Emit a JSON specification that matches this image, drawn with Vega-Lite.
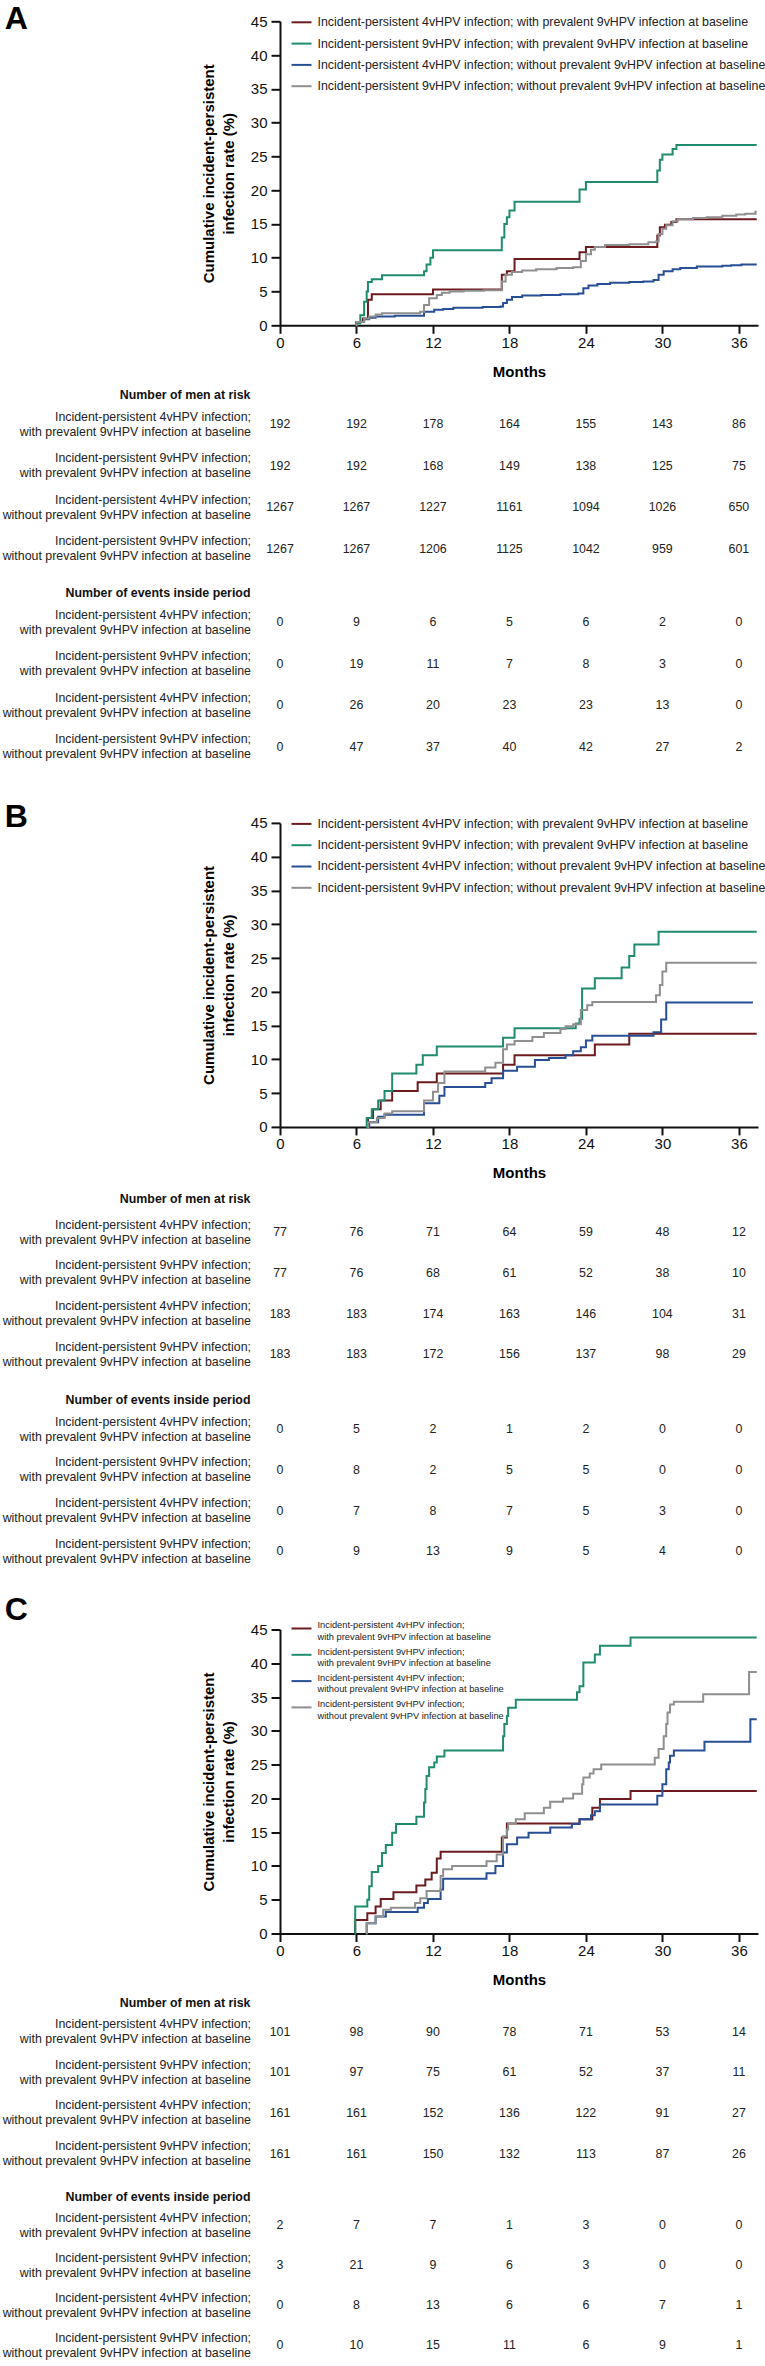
{
  "$schema": "https://vega.github.io/schema/vega-lite/v6.json",
  "padding": {"left": 1, "top": 3.3, "right": 0, "bottom": 0},
  "autosize": {"type": "pad"},
  "spacing": 33.6,
  "config": {
    "font": "Liberation Sans",
    "view": {"stroke": null},
    "title": {"color": "#000"},
    "legend": {"rowPadding": 3.3}
  },
  "datasets": {
    "series": [
      {"key": "s1", "label": "Incident-persistent 4vHPV infection; with prevalent 9vHPV infection at baseline"},
      {"key": "s2", "label": "Incident-persistent 9vHPV infection; with prevalent 9vHPV infection at baseline"},
      {"key": "s3", "label": "Incident-persistent 4vHPV infection; without prevalent 9vHPV infection at baseline"},
      {"key": "s4", "label": "Incident-persistent 9vHPV infection; without prevalent 9vHPV infection at baseline"}
    ],
    "curves": [
      {"panel":"A","key":"s1","month":5.95,"rate":0},{"panel":"A","key":"s1","month":6.0,"rate":0.5},{"panel":"A","key":"s1","month":6.5,"rate":1.0},{"panel":"A","key":"s1","month":6.9,"rate":3.8},{"panel":"A","key":"s1","month":7.2,"rate":4.6},{"panel":"A","key":"s1","month":12.0,"rate":5.3},{"panel":"A","key":"s1","month":17.4,"rate":7.5},{"panel":"A","key":"s1","month":17.8,"rate":8.0},{"panel":"A","key":"s1","month":18.4,"rate":9.8},{"panel":"A","key":"s1","month":23.5,"rate":10.8},{"panel":"A","key":"s1","month":24.0,"rate":11.6},{"panel":"A","key":"s1","month":29.6,"rate":13.3},{"panel":"A","key":"s1","month":29.8,"rate":14.5},{"panel":"A","key":"s1","month":30.2,"rate":14.9},{"panel":"A","key":"s1","month":30.7,"rate":15.3},{"panel":"A","key":"s1","month":31.1,"rate":15.7},{"panel":"A","key":"s1","month":37.4,"rate":15.7},
      {"panel":"A","key":"s2","month":5.95,"rate":0},{"panel":"A","key":"s2","month":6.0,"rate":0.3},{"panel":"A","key":"s2","month":6.3,"rate":1.5},{"panel":"A","key":"s2","month":6.6,"rate":3.5},{"panel":"A","key":"s2","month":6.8,"rate":5.0},{"panel":"A","key":"s2","month":6.9,"rate":6.4},{"panel":"A","key":"s2","month":7.2,"rate":6.8},{"panel":"A","key":"s2","month":8.0,"rate":7.4},{"panel":"A","key":"s2","month":11.3,"rate":8.0},{"panel":"A","key":"s2","month":11.5,"rate":9.0},{"panel":"A","key":"s2","month":11.8,"rate":10.0},{"panel":"A","key":"s2","month":12.0,"rate":11.1},{"panel":"A","key":"s2","month":17.4,"rate":13.0},{"panel":"A","key":"s2","month":17.6,"rate":15.0},{"panel":"A","key":"s2","month":17.8,"rate":16.0},{"panel":"A","key":"s2","month":18.0,"rate":17.0},{"panel":"A","key":"s2","month":18.4,"rate":18.3},{"panel":"A","key":"s2","month":23.5,"rate":20.1},{"panel":"A","key":"s2","month":24.0,"rate":21.2},{"panel":"A","key":"s2","month":29.6,"rate":22.9},{"panel":"A","key":"s2","month":29.8,"rate":24.5},{"panel":"A","key":"s2","month":30.0,"rate":25.3},{"panel":"A","key":"s2","month":30.8,"rate":26.1},{"panel":"A","key":"s2","month":31.1,"rate":26.7},{"panel":"A","key":"s2","month":37.4,"rate":26.7},
      {"panel":"A","key":"s3","month":5.95,"rate":0},{"panel":"A","key":"s3","month":6.0,"rate":0.5},{"panel":"A","key":"s3","month":6.6,"rate":0.9},{"panel":"A","key":"s3","month":7.0,"rate":1.1},{"panel":"A","key":"s3","month":7.5,"rate":1.3},{"panel":"A","key":"s3","month":9.0,"rate":1.4},{"panel":"A","key":"s3","month":11.3,"rate":2.0},{"panel":"A","key":"s3","month":12.1,"rate":2.3},{"panel":"A","key":"s3","month":12.8,"rate":2.4},{"panel":"A","key":"s3","month":13.6,"rate":2.6},{"panel":"A","key":"s3","month":15.9,"rate":2.7},{"panel":"A","key":"s3","month":17.3,"rate":2.8},{"panel":"A","key":"s3","month":17.5,"rate":3.3},{"panel":"A","key":"s3","month":17.8,"rate":3.8},{"panel":"A","key":"s3","month":18.2,"rate":4.2},{"panel":"A","key":"s3","month":19.0,"rate":4.4},{"panel":"A","key":"s3","month":20.5,"rate":4.5},{"panel":"A","key":"s3","month":22.0,"rate":4.6},{"panel":"A","key":"s3","month":23.4,"rate":4.7},{"panel":"A","key":"s3","month":23.8,"rate":5.5},{"panel":"A","key":"s3","month":24.2,"rate":5.9},{"panel":"A","key":"s3","month":24.9,"rate":6.1},{"panel":"A","key":"s3","month":25.9,"rate":6.3},{"panel":"A","key":"s3","month":27.4,"rate":6.4},{"panel":"A","key":"s3","month":28.5,"rate":6.5},{"panel":"A","key":"s3","month":29.3,"rate":6.7},{"panel":"A","key":"s3","month":29.7,"rate":7.5},{"panel":"A","key":"s3","month":30.1,"rate":8.0},{"panel":"A","key":"s3","month":30.8,"rate":8.3},{"panel":"A","key":"s3","month":31.4,"rate":8.5},{"panel":"A","key":"s3","month":32.7,"rate":8.7},{"panel":"A","key":"s3","month":34.7,"rate":8.8},{"panel":"A","key":"s3","month":35.4,"rate":8.9},{"panel":"A","key":"s3","month":36.2,"rate":9.0},{"panel":"A","key":"s3","month":37.4,"rate":9.0},
      {"panel":"A","key":"s4","month":5.95,"rate":0},{"panel":"A","key":"s4","month":6.0,"rate":0.5},{"panel":"A","key":"s4","month":6.6,"rate":1.0},{"panel":"A","key":"s4","month":7.0,"rate":1.3},{"panel":"A","key":"s4","month":7.5,"rate":1.6},{"panel":"A","key":"s4","month":8.0,"rate":1.8},{"panel":"A","key":"s4","month":11.0,"rate":2.0},{"panel":"A","key":"s4","month":11.3,"rate":3.0},{"panel":"A","key":"s4","month":11.7,"rate":4.0},{"panel":"A","key":"s4","month":12.3,"rate":4.5},{"panel":"A","key":"s4","month":12.7,"rate":4.8},{"panel":"A","key":"s4","month":13.3,"rate":5.0},{"panel":"A","key":"s4","month":14.4,"rate":5.1},{"panel":"A","key":"s4","month":16.0,"rate":5.2},{"panel":"A","key":"s4","month":17.4,"rate":6.5},{"panel":"A","key":"s4","month":17.7,"rate":7.5},{"panel":"A","key":"s4","month":18.2,"rate":7.9},{"panel":"A","key":"s4","month":19.0,"rate":8.1},{"panel":"A","key":"s4","month":20.1,"rate":8.3},{"panel":"A","key":"s4","month":21.7,"rate":8.5},{"panel":"A","key":"s4","month":23.0,"rate":8.6},{"panel":"A","key":"s4","month":23.6,"rate":9.5},{"panel":"A","key":"s4","month":24.0,"rate":10.5},{"panel":"A","key":"s4","month":24.4,"rate":11.2},{"panel":"A","key":"s4","month":24.7,"rate":11.6},{"panel":"A","key":"s4","month":25.5,"rate":11.9},{"panel":"A","key":"s4","month":27.4,"rate":12.0},{"panel":"A","key":"s4","month":28.9,"rate":12.3},{"panel":"A","key":"s4","month":29.5,"rate":12.4},{"panel":"A","key":"s4","month":29.7,"rate":13.5},{"panel":"A","key":"s4","month":30.0,"rate":14.3},{"panel":"A","key":"s4","month":30.3,"rate":14.8},{"panel":"A","key":"s4","month":30.8,"rate":15.4},{"panel":"A","key":"s4","month":31.2,"rate":15.7},{"panel":"A","key":"s4","month":32.4,"rate":15.9},{"panel":"A","key":"s4","month":33.5,"rate":16.0},{"panel":"A","key":"s4","month":34.7,"rate":16.2},{"panel":"A","key":"s4","month":35.8,"rate":16.4},{"panel":"A","key":"s4","month":36.5,"rate":16.5},{"panel":"A","key":"s4","month":37.3,"rate":16.8},{"panel":"A","key":"s4","month":37.4,"rate":16.8},
      {"panel":"B","key":"s1","month":6.85,"rate":0},{"panel":"B","key":"s1","month":6.9,"rate":1.3},{"panel":"B","key":"s1","month":7.3,"rate":2.6},{"panel":"B","key":"s1","month":7.9,"rate":3.9},{"panel":"B","key":"s1","month":8.8,"rate":5.3},{"panel":"B","key":"s1","month":10.8,"rate":6.6},{"panel":"B","key":"s1","month":12.3,"rate":7.9},{"panel":"B","key":"s1","month":17.5,"rate":9.2},{"panel":"B","key":"s1","month":18.4,"rate":10.6},{"panel":"B","key":"s1","month":24.7,"rate":12.2},{"panel":"B","key":"s1","month":27.4,"rate":13.8},{"panel":"B","key":"s1","month":37.4,"rate":13.8},
      {"panel":"B","key":"s2","month":6.75,"rate":0},{"panel":"B","key":"s2","month":6.8,"rate":1.3},{"panel":"B","key":"s2","month":7.2,"rate":2.6},{"panel":"B","key":"s2","month":7.7,"rate":3.9},{"panel":"B","key":"s2","month":8.2,"rate":5.3},{"panel":"B","key":"s2","month":8.8,"rate":7.9},{"panel":"B","key":"s2","month":10.7,"rate":9.2},{"panel":"B","key":"s2","month":11.2,"rate":10.6},{"panel":"B","key":"s2","month":12.3,"rate":11.9},{"panel":"B","key":"s2","month":17.5,"rate":13.2},{"panel":"B","key":"s2","month":18.4,"rate":14.6},{"panel":"B","key":"s2","month":23.2,"rate":15.3},{"panel":"B","key":"s2","month":23.5,"rate":16.0},{"panel":"B","key":"s2","month":23.7,"rate":20.5},{"panel":"B","key":"s2","month":24.7,"rate":22.0},{"panel":"B","key":"s2","month":26.8,"rate":23.6},{"panel":"B","key":"s2","month":27.4,"rate":25.3},{"panel":"B","key":"s2","month":27.8,"rate":27.0},{"panel":"B","key":"s2","month":29.7,"rate":28.9},{"panel":"B","key":"s2","month":37.4,"rate":28.9},
      {"panel":"B","key":"s3","month":6.95,"rate":0},{"panel":"B","key":"s3","month":7.0,"rate":0.7},{"panel":"B","key":"s3","month":7.7,"rate":1.5},{"panel":"B","key":"s3","month":8.2,"rate":1.8},{"panel":"B","key":"s3","month":11.3,"rate":3.5},{"panel":"B","key":"s3","month":12.5,"rate":4.6},{"panel":"B","key":"s3","month":12.9,"rate":5.9},{"panel":"B","key":"s3","month":16.1,"rate":6.5},{"panel":"B","key":"s3","month":16.6,"rate":7.2},{"panel":"B","key":"s3","month":17.5,"rate":8.3},{"panel":"B","key":"s3","month":18.6,"rate":8.9},{"panel":"B","key":"s3","month":20.0,"rate":9.9},{"panel":"B","key":"s3","month":21.1,"rate":10.2},{"panel":"B","key":"s3","month":22.4,"rate":10.6},{"panel":"B","key":"s3","month":23.0,"rate":11.2},{"panel":"B","key":"s3","month":23.6,"rate":11.8},{"panel":"B","key":"s3","month":24.0,"rate":12.8},{"panel":"B","key":"s3","month":24.5,"rate":13.5},{"panel":"B","key":"s3","month":29.3,"rate":14.0},{"panel":"B","key":"s3","month":29.9,"rate":15.9},{"panel":"B","key":"s3","month":30.3,"rate":18.4},{"panel":"B","key":"s3","month":37.1,"rate":18.4},
      {"panel":"B","key":"s4","month":6.85,"rate":0},{"panel":"B","key":"s4","month":6.9,"rate":0.7},{"panel":"B","key":"s4","month":7.6,"rate":1.3},{"panel":"B","key":"s4","month":8.2,"rate":2.0},{"panel":"B","key":"s4","month":8.8,"rate":2.3},{"panel":"B","key":"s4","month":11.3,"rate":3.9},{"panel":"B","key":"s4","month":12.0,"rate":5.2},{"panel":"B","key":"s4","month":12.4,"rate":6.5},{"panel":"B","key":"s4","month":12.9,"rate":8.2},{"panel":"B","key":"s4","month":16.1,"rate":8.8},{"panel":"B","key":"s4","month":16.9,"rate":9.5},{"panel":"B","key":"s4","month":17.5,"rate":11.5},{"panel":"B","key":"s4","month":17.8,"rate":12.2},{"panel":"B","key":"s4","month":18.4,"rate":12.7},{"panel":"B","key":"s4","month":19.8,"rate":13.3},{"panel":"B","key":"s4","month":20.7,"rate":13.9},{"panel":"B","key":"s4","month":22.0,"rate":14.5},{"panel":"B","key":"s4","month":22.4,"rate":14.9},{"panel":"B","key":"s4","month":23.0,"rate":15.2},{"panel":"B","key":"s4","month":23.6,"rate":17.3},{"panel":"B","key":"s4","month":24.1,"rate":18.0},{"panel":"B","key":"s4","month":24.5,"rate":18.5},{"panel":"B","key":"s4","month":29.5,"rate":19.5},{"panel":"B","key":"s4","month":29.8,"rate":21.0},{"panel":"B","key":"s4","month":30.0,"rate":23.0},{"panel":"B","key":"s4","month":30.3,"rate":24.3},{"panel":"B","key":"s4","month":37.4,"rate":24.3},
      {"panel":"C","key":"s1","month":5.85,"rate":0},{"panel":"C","key":"s1","month":5.9,"rate":2.0},{"panel":"C","key":"s1","month":6.85,"rate":3.0},{"panel":"C","key":"s1","month":7.5,"rate":4.0},{"panel":"C","key":"s1","month":7.9,"rate":5.1},{"panel":"C","key":"s1","month":8.9,"rate":6.1},{"panel":"C","key":"s1","month":10.7,"rate":7.1},{"panel":"C","key":"s1","month":11.4,"rate":8.0},{"panel":"C","key":"s1","month":11.9,"rate":9.0},{"panel":"C","key":"s1","month":12.3,"rate":11.1},{"panel":"C","key":"s1","month":12.6,"rate":12.1},{"panel":"C","key":"s1","month":17.4,"rate":14.2},{"panel":"C","key":"s1","month":17.8,"rate":16.3},{"panel":"C","key":"s1","month":23.5,"rate":16.9},{"panel":"C","key":"s1","month":24.5,"rate":18.6},{"panel":"C","key":"s1","month":25.1,"rate":19.9},{"panel":"C","key":"s1","month":27.5,"rate":21.1},{"panel":"C","key":"s1","month":37.4,"rate":21.1},
      {"panel":"C","key":"s2","month":5.85,"rate":0},{"panel":"C","key":"s2","month":5.9,"rate":4.0},{"panel":"C","key":"s2","month":6.85,"rate":5.0},{"panel":"C","key":"s2","month":7.0,"rate":7.0},{"panel":"C","key":"s2","month":7.2,"rate":9.1},{"panel":"C","key":"s2","month":7.7,"rate":10.0},{"panel":"C","key":"s2","month":8.0,"rate":11.9},{"panel":"C","key":"s2","month":8.3,"rate":13.1},{"panel":"C","key":"s2","month":8.8,"rate":14.9},{"panel":"C","key":"s2","month":9.1,"rate":16.2},{"panel":"C","key":"s2","month":10.7,"rate":17.3},{"panel":"C","key":"s2","month":11.3,"rate":19.4},{"panel":"C","key":"s2","month":11.4,"rate":21.4},{"panel":"C","key":"s2","month":11.5,"rate":23.3},{"panel":"C","key":"s2","month":11.7,"rate":24.6},{"panel":"C","key":"s2","month":12.1,"rate":25.3},{"panel":"C","key":"s2","month":12.3,"rate":26.2},{"panel":"C","key":"s2","month":12.9,"rate":27.1},{"panel":"C","key":"s2","month":17.5,"rate":29.2},{"panel":"C","key":"s2","month":17.6,"rate":31.0},{"panel":"C","key":"s2","month":17.8,"rate":32.2},{"panel":"C","key":"s2","month":17.9,"rate":33.4},{"panel":"C","key":"s2","month":18.5,"rate":34.6},{"panel":"C","key":"s2","month":23.3,"rate":35.7},{"panel":"C","key":"s2","month":23.5,"rate":36.6},{"panel":"C","key":"s2","month":23.8,"rate":40.1},{"panel":"C","key":"s2","month":24.7,"rate":41.3},{"panel":"C","key":"s2","month":25.1,"rate":42.6},{"panel":"C","key":"s2","month":27.5,"rate":43.8},{"panel":"C","key":"s2","month":37.4,"rate":43.8},
      {"panel":"C","key":"s3","month":6.75,"rate":0},{"panel":"C","key":"s3","month":6.8,"rate":1.5},{"panel":"C","key":"s3","month":7.5,"rate":2.5},{"panel":"C","key":"s3","month":8.3,"rate":3.2},{"panel":"C","key":"s3","month":10.8,"rate":3.8},{"panel":"C","key":"s3","month":11.3,"rate":4.5},{"panel":"C","key":"s3","month":11.6,"rate":5.1},{"panel":"C","key":"s3","month":12.6,"rate":6.5},{"panel":"C","key":"s3","month":12.8,"rate":8.1},{"panel":"C","key":"s3","month":16.2,"rate":8.9},{"panel":"C","key":"s3","month":16.9,"rate":10.0},{"panel":"C","key":"s3","month":17.5,"rate":12.0},{"panel":"C","key":"s3","month":17.8,"rate":13.2},{"panel":"C","key":"s3","month":18.6,"rate":14.2},{"panel":"C","key":"s3","month":19.5,"rate":14.9},{"panel":"C","key":"s3","month":21.2,"rate":15.7},{"panel":"C","key":"s3","month":22.9,"rate":16.2},{"panel":"C","key":"s3","month":23.5,"rate":16.9},{"panel":"C","key":"s3","month":24.4,"rate":17.5},{"panel":"C","key":"s3","month":24.7,"rate":18.1},{"panel":"C","key":"s3","month":25.1,"rate":19.1},{"panel":"C","key":"s3","month":29.6,"rate":20.4},{"panel":"C","key":"s3","month":30.0,"rate":22.1},{"panel":"C","key":"s3","month":30.3,"rate":24.3},{"panel":"C","key":"s3","month":30.5,"rate":25.3},{"panel":"C","key":"s3","month":30.6,"rate":26.3},{"panel":"C","key":"s3","month":30.9,"rate":27.1},{"panel":"C","key":"s3","month":33.3,"rate":28.4},{"panel":"C","key":"s3","month":36.9,"rate":31.7},{"panel":"C","key":"s3","month":37.4,"rate":31.7},
      {"panel":"C","key":"s4","month":6.75,"rate":0},{"panel":"C","key":"s4","month":6.8,"rate":1.5},{"panel":"C","key":"s4","month":7.5,"rate":2.5},{"panel":"C","key":"s4","month":8.1,"rate":3.5},{"panel":"C","key":"s4","month":8.7,"rate":3.8},{"panel":"C","key":"s4","month":10.6,"rate":4.5},{"panel":"C","key":"s4","month":11.0,"rate":5.2},{"panel":"C","key":"s4","month":11.5,"rate":6.3},{"panel":"C","key":"s4","month":12.6,"rate":8.5},{"panel":"C","key":"s4","month":12.8,"rate":9.5},{"panel":"C","key":"s4","month":13.5,"rate":10.0},{"panel":"C","key":"s4","month":16.2,"rate":10.7},{"panel":"C","key":"s4","month":17.0,"rate":11.7},{"panel":"C","key":"s4","month":17.5,"rate":14.4},{"panel":"C","key":"s4","month":17.8,"rate":15.4},{"panel":"C","key":"s4","month":17.9,"rate":16.3},{"panel":"C","key":"s4","month":18.5,"rate":16.9},{"panel":"C","key":"s4","month":19.2,"rate":17.8},{"panel":"C","key":"s4","month":20.7,"rate":18.6},{"panel":"C","key":"s4","month":21.2,"rate":19.5},{"panel":"C","key":"s4","month":22.2,"rate":20.0},{"panel":"C","key":"s4","month":23.0,"rate":20.7},{"panel":"C","key":"s4","month":23.7,"rate":22.1},{"panel":"C","key":"s4","month":23.8,"rate":23.1},{"panel":"C","key":"s4","month":24.3,"rate":23.7},{"panel":"C","key":"s4","month":24.6,"rate":24.3},{"panel":"C","key":"s4","month":25.2,"rate":25.0},{"panel":"C","key":"s4","month":29.4,"rate":26.0},{"panel":"C","key":"s4","month":29.7,"rate":27.3},{"panel":"C","key":"s4","month":30.1,"rate":29.2},{"panel":"C","key":"s4","month":30.3,"rate":31.0},{"panel":"C","key":"s4","month":30.4,"rate":32.7},{"panel":"C","key":"s4","month":30.6,"rate":33.9},{"panel":"C","key":"s4","month":30.9,"rate":34.3},{"panel":"C","key":"s4","month":33.2,"rate":35.4},{"panel":"C","key":"s4","month":36.8,"rate":38.7},{"panel":"C","key":"s4","month":37.4,"rate":38.7}
    ],
    "counts": [
      {"panel":"A","table":"risk","key":"s1","month":0,"n":192},{"panel":"A","table":"risk","key":"s1","month":6,"n":192},{"panel":"A","table":"risk","key":"s1","month":12,"n":178},{"panel":"A","table":"risk","key":"s1","month":18,"n":164},{"panel":"A","table":"risk","key":"s1","month":24,"n":155},{"panel":"A","table":"risk","key":"s1","month":30,"n":143},{"panel":"A","table":"risk","key":"s1","month":36,"n":86},
      {"panel":"A","table":"risk","key":"s2","month":0,"n":192},{"panel":"A","table":"risk","key":"s2","month":6,"n":192},{"panel":"A","table":"risk","key":"s2","month":12,"n":168},{"panel":"A","table":"risk","key":"s2","month":18,"n":149},{"panel":"A","table":"risk","key":"s2","month":24,"n":138},{"panel":"A","table":"risk","key":"s2","month":30,"n":125},{"panel":"A","table":"risk","key":"s2","month":36,"n":75},
      {"panel":"A","table":"risk","key":"s3","month":0,"n":1267},{"panel":"A","table":"risk","key":"s3","month":6,"n":1267},{"panel":"A","table":"risk","key":"s3","month":12,"n":1227},{"panel":"A","table":"risk","key":"s3","month":18,"n":1161},{"panel":"A","table":"risk","key":"s3","month":24,"n":1094},{"panel":"A","table":"risk","key":"s3","month":30,"n":1026},{"panel":"A","table":"risk","key":"s3","month":36,"n":650},
      {"panel":"A","table":"risk","key":"s4","month":0,"n":1267},{"panel":"A","table":"risk","key":"s4","month":6,"n":1267},{"panel":"A","table":"risk","key":"s4","month":12,"n":1206},{"panel":"A","table":"risk","key":"s4","month":18,"n":1125},{"panel":"A","table":"risk","key":"s4","month":24,"n":1042},{"panel":"A","table":"risk","key":"s4","month":30,"n":959},{"panel":"A","table":"risk","key":"s4","month":36,"n":601},
      {"panel":"A","table":"events","key":"s1","month":0,"n":0},{"panel":"A","table":"events","key":"s1","month":6,"n":9},{"panel":"A","table":"events","key":"s1","month":12,"n":6},{"panel":"A","table":"events","key":"s1","month":18,"n":5},{"panel":"A","table":"events","key":"s1","month":24,"n":6},{"panel":"A","table":"events","key":"s1","month":30,"n":2},{"panel":"A","table":"events","key":"s1","month":36,"n":0},
      {"panel":"A","table":"events","key":"s2","month":0,"n":0},{"panel":"A","table":"events","key":"s2","month":6,"n":19},{"panel":"A","table":"events","key":"s2","month":12,"n":11},{"panel":"A","table":"events","key":"s2","month":18,"n":7},{"panel":"A","table":"events","key":"s2","month":24,"n":8},{"panel":"A","table":"events","key":"s2","month":30,"n":3},{"panel":"A","table":"events","key":"s2","month":36,"n":0},
      {"panel":"A","table":"events","key":"s3","month":0,"n":0},{"panel":"A","table":"events","key":"s3","month":6,"n":26},{"panel":"A","table":"events","key":"s3","month":12,"n":20},{"panel":"A","table":"events","key":"s3","month":18,"n":23},{"panel":"A","table":"events","key":"s3","month":24,"n":23},{"panel":"A","table":"events","key":"s3","month":30,"n":13},{"panel":"A","table":"events","key":"s3","month":36,"n":0},
      {"panel":"A","table":"events","key":"s4","month":0,"n":0},{"panel":"A","table":"events","key":"s4","month":6,"n":47},{"panel":"A","table":"events","key":"s4","month":12,"n":37},{"panel":"A","table":"events","key":"s4","month":18,"n":40},{"panel":"A","table":"events","key":"s4","month":24,"n":42},{"panel":"A","table":"events","key":"s4","month":30,"n":27},{"panel":"A","table":"events","key":"s4","month":36,"n":2},
      {"panel":"B","table":"risk","key":"s1","month":0,"n":77},{"panel":"B","table":"risk","key":"s1","month":6,"n":76},{"panel":"B","table":"risk","key":"s1","month":12,"n":71},{"panel":"B","table":"risk","key":"s1","month":18,"n":64},{"panel":"B","table":"risk","key":"s1","month":24,"n":59},{"panel":"B","table":"risk","key":"s1","month":30,"n":48},{"panel":"B","table":"risk","key":"s1","month":36,"n":12},
      {"panel":"B","table":"risk","key":"s2","month":0,"n":77},{"panel":"B","table":"risk","key":"s2","month":6,"n":76},{"panel":"B","table":"risk","key":"s2","month":12,"n":68},{"panel":"B","table":"risk","key":"s2","month":18,"n":61},{"panel":"B","table":"risk","key":"s2","month":24,"n":52},{"panel":"B","table":"risk","key":"s2","month":30,"n":38},{"panel":"B","table":"risk","key":"s2","month":36,"n":10},
      {"panel":"B","table":"risk","key":"s3","month":0,"n":183},{"panel":"B","table":"risk","key":"s3","month":6,"n":183},{"panel":"B","table":"risk","key":"s3","month":12,"n":174},{"panel":"B","table":"risk","key":"s3","month":18,"n":163},{"panel":"B","table":"risk","key":"s3","month":24,"n":146},{"panel":"B","table":"risk","key":"s3","month":30,"n":104},{"panel":"B","table":"risk","key":"s3","month":36,"n":31},
      {"panel":"B","table":"risk","key":"s4","month":0,"n":183},{"panel":"B","table":"risk","key":"s4","month":6,"n":183},{"panel":"B","table":"risk","key":"s4","month":12,"n":172},{"panel":"B","table":"risk","key":"s4","month":18,"n":156},{"panel":"B","table":"risk","key":"s4","month":24,"n":137},{"panel":"B","table":"risk","key":"s4","month":30,"n":98},{"panel":"B","table":"risk","key":"s4","month":36,"n":29},
      {"panel":"B","table":"events","key":"s1","month":0,"n":0},{"panel":"B","table":"events","key":"s1","month":6,"n":5},{"panel":"B","table":"events","key":"s1","month":12,"n":2},{"panel":"B","table":"events","key":"s1","month":18,"n":1},{"panel":"B","table":"events","key":"s1","month":24,"n":2},{"panel":"B","table":"events","key":"s1","month":30,"n":0},{"panel":"B","table":"events","key":"s1","month":36,"n":0},
      {"panel":"B","table":"events","key":"s2","month":0,"n":0},{"panel":"B","table":"events","key":"s2","month":6,"n":8},{"panel":"B","table":"events","key":"s2","month":12,"n":2},{"panel":"B","table":"events","key":"s2","month":18,"n":5},{"panel":"B","table":"events","key":"s2","month":24,"n":5},{"panel":"B","table":"events","key":"s2","month":30,"n":0},{"panel":"B","table":"events","key":"s2","month":36,"n":0},
      {"panel":"B","table":"events","key":"s3","month":0,"n":0},{"panel":"B","table":"events","key":"s3","month":6,"n":7},{"panel":"B","table":"events","key":"s3","month":12,"n":8},{"panel":"B","table":"events","key":"s3","month":18,"n":7},{"panel":"B","table":"events","key":"s3","month":24,"n":5},{"panel":"B","table":"events","key":"s3","month":30,"n":3},{"panel":"B","table":"events","key":"s3","month":36,"n":0},
      {"panel":"B","table":"events","key":"s4","month":0,"n":0},{"panel":"B","table":"events","key":"s4","month":6,"n":9},{"panel":"B","table":"events","key":"s4","month":12,"n":13},{"panel":"B","table":"events","key":"s4","month":18,"n":9},{"panel":"B","table":"events","key":"s4","month":24,"n":5},{"panel":"B","table":"events","key":"s4","month":30,"n":4},{"panel":"B","table":"events","key":"s4","month":36,"n":0},
      {"panel":"C","table":"risk","key":"s1","month":0,"n":101},{"panel":"C","table":"risk","key":"s1","month":6,"n":98},{"panel":"C","table":"risk","key":"s1","month":12,"n":90},{"panel":"C","table":"risk","key":"s1","month":18,"n":78},{"panel":"C","table":"risk","key":"s1","month":24,"n":71},{"panel":"C","table":"risk","key":"s1","month":30,"n":53},{"panel":"C","table":"risk","key":"s1","month":36,"n":14},
      {"panel":"C","table":"risk","key":"s2","month":0,"n":101},{"panel":"C","table":"risk","key":"s2","month":6,"n":97},{"panel":"C","table":"risk","key":"s2","month":12,"n":75},{"panel":"C","table":"risk","key":"s2","month":18,"n":61},{"panel":"C","table":"risk","key":"s2","month":24,"n":52},{"panel":"C","table":"risk","key":"s2","month":30,"n":37},{"panel":"C","table":"risk","key":"s2","month":36,"n":11},
      {"panel":"C","table":"risk","key":"s3","month":0,"n":161},{"panel":"C","table":"risk","key":"s3","month":6,"n":161},{"panel":"C","table":"risk","key":"s3","month":12,"n":152},{"panel":"C","table":"risk","key":"s3","month":18,"n":136},{"panel":"C","table":"risk","key":"s3","month":24,"n":122},{"panel":"C","table":"risk","key":"s3","month":30,"n":91},{"panel":"C","table":"risk","key":"s3","month":36,"n":27},
      {"panel":"C","table":"risk","key":"s4","month":0,"n":161},{"panel":"C","table":"risk","key":"s4","month":6,"n":161},{"panel":"C","table":"risk","key":"s4","month":12,"n":150},{"panel":"C","table":"risk","key":"s4","month":18,"n":132},{"panel":"C","table":"risk","key":"s4","month":24,"n":113},{"panel":"C","table":"risk","key":"s4","month":30,"n":87},{"panel":"C","table":"risk","key":"s4","month":36,"n":26},
      {"panel":"C","table":"events","key":"s1","month":0,"n":2},{"panel":"C","table":"events","key":"s1","month":6,"n":7},{"panel":"C","table":"events","key":"s1","month":12,"n":7},{"panel":"C","table":"events","key":"s1","month":18,"n":1},{"panel":"C","table":"events","key":"s1","month":24,"n":3},{"panel":"C","table":"events","key":"s1","month":30,"n":0},{"panel":"C","table":"events","key":"s1","month":36,"n":0},
      {"panel":"C","table":"events","key":"s2","month":0,"n":3},{"panel":"C","table":"events","key":"s2","month":6,"n":21},{"panel":"C","table":"events","key":"s2","month":12,"n":9},{"panel":"C","table":"events","key":"s2","month":18,"n":6},{"panel":"C","table":"events","key":"s2","month":24,"n":3},{"panel":"C","table":"events","key":"s2","month":30,"n":0},{"panel":"C","table":"events","key":"s2","month":36,"n":0},
      {"panel":"C","table":"events","key":"s3","month":0,"n":0},{"panel":"C","table":"events","key":"s3","month":6,"n":8},{"panel":"C","table":"events","key":"s3","month":12,"n":13},{"panel":"C","table":"events","key":"s3","month":18,"n":6},{"panel":"C","table":"events","key":"s3","month":24,"n":6},{"panel":"C","table":"events","key":"s3","month":30,"n":7},{"panel":"C","table":"events","key":"s3","month":36,"n":1},
      {"panel":"C","table":"events","key":"s4","month":0,"n":0},{"panel":"C","table":"events","key":"s4","month":6,"n":10},{"panel":"C","table":"events","key":"s4","month":12,"n":15},{"panel":"C","table":"events","key":"s4","month":18,"n":11},{"panel":"C","table":"events","key":"s4","month":24,"n":6},{"panel":"C","table":"events","key":"s4","month":30,"n":9},{"panel":"C","table":"events","key":"s4","month":36,"n":1}
    ]
  },
  "resolve": {"scale": {"color": "independent"}, "legend": {"color": "independent"}},
  "vconcat": [
    {
      "title": {"text": "A", "anchor": "start", "fontSize": 32, "fontWeight": "bold", "baseline": "alphabetic", "offset": -50, "dx": 3},
      "spacing": 17,
      "resolve": {"scale": {"color": "independent"}, "legend": {"color": "independent"}},
      "vconcat": [
        {
          "spacing": 9,
          "vconcat": [
            {
              "width": 478, "height": 304,
              "data": {"name": "curves"},
              "transform": [{"filter": "datum.panel === 'A'"}, {"lookup": "key", "from": {"data": {"name": "series"}, "key": "key", "fields": ["label"]}}],
              "mark": {"type": "line", "interpolate": "step-after", "strokeWidth": 2},
              "encoding": {
                "x": {"field": "month", "type": "quantitative", "scale": {"domain": [0, 37.5], "nice": false}, "axis": {"values": [0, 6, 12, 18, 24, 30, 36], "title": "Months", "grid": false, "domainWidth": 2, "domainColor": "#111", "tickWidth": 2, "tickColor": "#111", "tickSize": 8, "labelFontSize": 15, "labelPadding": 2, "labelColor": "#111", "labelFlush": false, "titleFontSize": 15, "titleFontWeight": "bold", "titlePadding": 14}},
                "y": {"field": "rate", "type": "quantitative", "scale": {"domain": [0, 45], "nice": false}, "axis": {"values": [0, 5, 10, 15, 20, 25, 30, 35, 40, 45], "title": ["Cumulative incident-persistent", "infection rate (%)"], "grid": false, "domainWidth": 2, "domainColor": "#111", "tickWidth": 2, "tickColor": "#111", "tickSize": 9, "labelFontSize": 15, "labelPadding": 4, "labelColor": "#111", "labelFlush": false, "titleFontSize": 15, "titleFontWeight": "bold", "titleLineHeight": 20, "titlePadding": 14}},
                "color": {"field": "label", "type": "nominal", "scale": {"domain": ["Incident-persistent 4vHPV infection; with prevalent 9vHPV infection at baseline", "Incident-persistent 9vHPV infection; with prevalent 9vHPV infection at baseline", "Incident-persistent 4vHPV infection; without prevalent 9vHPV infection at baseline", "Incident-persistent 9vHPV infection; without prevalent 9vHPV infection at baseline"], "range": ["#6e1b1f", "#1f8c6f", "#284f96", "#8f8f8f"]}, "legend": {"title": null, "orient": "none", "legendX": 10.5, "legendY": -10, "symbolType": "stroke", "symbolSize": 400, "symbolStrokeWidth": 2, "labelFontSize": 12.4, "labelColor": "#222", "labelLimit": 0, "labelOffset": 5, "rowPadding": 3.3, "padding": 0}}
              }
            },
            {
              "width": 478, "height": 166,
              "title": {"text": "Number of men at risk", "anchor": "start", "align": "right", "dx": -29.5, "baseline": "bottom", "offset": -11, "fontSize": 12.4, "fontWeight": "bold", "color": "#111", "frame": "group"},
              "data": {"name": "counts"},
              "transform": [{"filter": "datum.panel === 'A' && datum.table === 'risk'"}, {"lookup": "key", "from": {"data": {"name": "series"}, "key": "key", "fields": ["label"]}}],
              "mark": {"type": "text", "fontSize": 12.4, "color": "#222"},
              "encoding": {
                "x": {"field": "month", "type": "quantitative", "scale": {"domain": [0, 37.5], "nice": false}, "axis": null},
                "y": {"field": "label", "type": "nominal", "sort": ["Incident-persistent 4vHPV infection; with prevalent 9vHPV infection at baseline", "Incident-persistent 9vHPV infection; with prevalent 9vHPV infection at baseline", "Incident-persistent 4vHPV infection; without prevalent 9vHPV infection at baseline", "Incident-persistent 9vHPV infection; without prevalent 9vHPV infection at baseline"], "scale": {"type": "band", "paddingInner": 0, "paddingOuter": 0}, "axis": {"title": null, "domain": false, "ticks": false, "labelPadding": 29.5, "labelOffset": -7.5, "labelFontSize": 12.4, "labelLineHeight": 15, "labelLimit": 0, "labelColor": "#222", "labelExpr": "[slice(datum.label, 0, indexof(datum.label, ';') + 1), slice(datum.label, indexof(datum.label, ';') + 2)]"}},
                "text": {"field": "n", "type": "quantitative"}
              }
            }
          ]
        },
        {
          "width": 478, "height": 166,
          "title": {"text": "Number of events inside period", "anchor": "start", "align": "right", "dx": -29.5, "baseline": "bottom", "offset": -11, "fontSize": 12.4, "fontWeight": "bold", "color": "#111", "frame": "group"},
          "data": {"name": "counts"},
          "transform": [{"filter": "datum.panel === 'A' && datum.table === 'events'"}, {"lookup": "key", "from": {"data": {"name": "series"}, "key": "key", "fields": ["label"]}}],
          "mark": {"type": "text", "fontSize": 12.4, "color": "#222"},
          "encoding": {
            "x": {"field": "month", "type": "quantitative", "scale": {"domain": [0, 37.5], "nice": false}, "axis": null},
            "y": {"field": "label", "type": "nominal", "sort": ["Incident-persistent 4vHPV infection; with prevalent 9vHPV infection at baseline", "Incident-persistent 9vHPV infection; with prevalent 9vHPV infection at baseline", "Incident-persistent 4vHPV infection; without prevalent 9vHPV infection at baseline", "Incident-persistent 9vHPV infection; without prevalent 9vHPV infection at baseline"], "scale": {"type": "band", "paddingInner": 0, "paddingOuter": 0}, "axis": {"title": null, "domain": false, "ticks": false, "labelPadding": 29.5, "labelOffset": -7.5, "labelFontSize": 12.4, "labelLineHeight": 15, "labelLimit": 0, "labelColor": "#222", "labelExpr": "[slice(datum.label, 0, indexof(datum.label, ';') + 1), slice(datum.label, indexof(datum.label, ';') + 2)]"}},
            "text": {"field": "n", "type": "quantitative"}
          }
        }
      ]
    },
    {
      "spacing": 21.6,
      "resolve": {"scale": {"color": "independent"}, "legend": {"color": "independent"}},
      "vconcat": [
        {
          "title": {"text": "B", "anchor": "start", "fontSize": 32, "fontWeight": "bold", "baseline": "alphabetic", "offset": -46.4, "dx": 3},
          "spacing": 19,
          "resolve": {"scale": {"color": "independent"}, "legend": {"color": "independent"}},
          "vconcat": [
            {
              "spacing": 12,
              "vconcat": [
                {
                  "width": 478, "height": 304,
                  "data": {"name": "curves"},
                  "transform": [{"filter": "datum.panel === 'B'"}, {"lookup": "key", "from": {"data": {"name": "series"}, "key": "key", "fields": ["label"]}}],
                  "mark": {"type": "line", "interpolate": "step-after", "strokeWidth": 2},
                  "encoding": {
                    "x": {"field": "month", "type": "quantitative", "scale": {"domain": [0, 37.5], "nice": false}, "axis": {"values": [0, 6, 12, 18, 24, 30, 36], "title": "Months", "grid": false, "domainWidth": 2, "domainColor": "#111", "tickWidth": 2, "tickColor": "#111", "tickSize": 8, "labelFontSize": 15, "labelPadding": 2, "labelColor": "#111", "labelFlush": false, "titleFontSize": 15, "titleFontWeight": "bold", "titlePadding": 14}},
                    "y": {"field": "rate", "type": "quantitative", "scale": {"domain": [0, 45], "nice": false}, "axis": {"values": [0, 5, 10, 15, 20, 25, 30, 35, 40, 45], "title": ["Cumulative incident-persistent", "infection rate (%)"], "grid": false, "domainWidth": 2, "domainColor": "#111", "tickWidth": 2, "tickColor": "#111", "tickSize": 9, "labelFontSize": 15, "labelPadding": 4, "labelColor": "#111", "labelFlush": false, "titleFontSize": 15, "titleFontWeight": "bold", "titleLineHeight": 20, "titlePadding": 14}},
                    "color": {"field": "label", "type": "nominal", "scale": {"domain": ["Incident-persistent 4vHPV infection; with prevalent 9vHPV infection at baseline", "Incident-persistent 9vHPV infection; with prevalent 9vHPV infection at baseline", "Incident-persistent 4vHPV infection; without prevalent 9vHPV infection at baseline", "Incident-persistent 9vHPV infection; without prevalent 9vHPV infection at baseline"], "range": ["#6e1b1f", "#1f8c6f", "#284f96", "#8f8f8f"]}, "legend": {"title": null, "orient": "none", "legendX": 10.5, "legendY": -10, "symbolType": "stroke", "symbolSize": 400, "symbolStrokeWidth": 2, "labelFontSize": 12.4, "labelColor": "#222", "labelLimit": 0, "labelOffset": 5, "rowPadding": 3.3, "padding": 0}}
                  }
                },
                {
                  "width": 478, "height": 162.8,
                  "title": {"text": "Number of men at risk", "anchor": "start", "align": "right", "dx": -29.5, "baseline": "bottom", "offset": -7, "fontSize": 12.4, "fontWeight": "bold", "color": "#111", "frame": "group"},
                  "data": {"name": "counts"},
                  "transform": [{"filter": "datum.panel === 'B' && datum.table === 'risk'"}, {"lookup": "key", "from": {"data": {"name": "series"}, "key": "key", "fields": ["label"]}}],
                  "mark": {"type": "text", "fontSize": 12.4, "color": "#222"},
                  "encoding": {
                    "x": {"field": "month", "type": "quantitative", "scale": {"domain": [0, 37.5], "nice": false}, "axis": null},
                    "y": {"field": "label", "type": "nominal", "sort": ["Incident-persistent 4vHPV infection; with prevalent 9vHPV infection at baseline", "Incident-persistent 9vHPV infection; with prevalent 9vHPV infection at baseline", "Incident-persistent 4vHPV infection; without prevalent 9vHPV infection at baseline", "Incident-persistent 9vHPV infection; without prevalent 9vHPV infection at baseline"], "scale": {"type": "band", "paddingInner": 0, "paddingOuter": 0}, "axis": {"title": null, "domain": false, "ticks": false, "labelPadding": 29.5, "labelOffset": -7.5, "labelFontSize": 12.4, "labelLineHeight": 15, "labelLimit": 0, "labelColor": "#222", "labelExpr": "[slice(datum.label, 0, indexof(datum.label, ';') + 1), slice(datum.label, indexof(datum.label, ';') + 2)]"}},
                    "text": {"field": "n", "type": "quantitative"}
                  }
                }
              ]
            },
            {
              "width": 478, "height": 162.8,
              "title": {"text": "Number of events inside period", "anchor": "start", "align": "right", "dx": -29.5, "baseline": "bottom", "offset": -11, "fontSize": 12.4, "fontWeight": "bold", "color": "#111", "frame": "group"},
              "data": {"name": "counts"},
              "transform": [{"filter": "datum.panel === 'B' && datum.table === 'events'"}, {"lookup": "key", "from": {"data": {"name": "series"}, "key": "key", "fields": ["label"]}}],
              "mark": {"type": "text", "fontSize": 12.4, "color": "#222"},
              "encoding": {
                "x": {"field": "month", "type": "quantitative", "scale": {"domain": [0, 37.5], "nice": false}, "axis": null},
                "y": {"field": "label", "type": "nominal", "sort": ["Incident-persistent 4vHPV infection; with prevalent 9vHPV infection at baseline", "Incident-persistent 9vHPV infection; with prevalent 9vHPV infection at baseline", "Incident-persistent 4vHPV infection; without prevalent 9vHPV infection at baseline", "Incident-persistent 9vHPV infection; without prevalent 9vHPV infection at baseline"], "scale": {"type": "band", "paddingInner": 0, "paddingOuter": 0}, "axis": {"title": null, "domain": false, "ticks": false, "labelPadding": 29.5, "labelOffset": -7.5, "labelFontSize": 12.4, "labelLineHeight": 15, "labelLimit": 0, "labelColor": "#222", "labelExpr": "[slice(datum.label, 0, indexof(datum.label, ';') + 1), slice(datum.label, indexof(datum.label, ';') + 2)]"}},
                "text": {"field": "n", "type": "quantitative"}
              }
            }
          ]
        },
        {
          "title": {"text": "C", "anchor": "start", "fontSize": 32, "fontWeight": "bold", "baseline": "alphabetic", "offset": -34.3, "dx": 3},
          "spacing": 16,
          "resolve": {"scale": {"color": "independent"}, "legend": {"color": "independent"}},
          "vconcat": [
            {
              "spacing": 9,
              "vconcat": [
                {
                  "width": 478, "height": 304,
                  "data": {"name": "curves"},
                  "transform": [{"filter": "datum.panel === 'C'"}, {"lookup": "key", "from": {"data": {"name": "series"}, "key": "key", "fields": ["label"]}}],
                  "mark": {"type": "line", "interpolate": "step-after", "strokeWidth": 2},
                  "encoding": {
                    "x": {"field": "month", "type": "quantitative", "scale": {"domain": [0, 37.5], "nice": false}, "axis": {"values": [0, 6, 12, 18, 24, 30, 36], "title": "Months", "grid": false, "domainWidth": 2, "domainColor": "#111", "tickWidth": 2, "tickColor": "#111", "tickSize": 8, "labelFontSize": 15, "labelPadding": 2, "labelColor": "#111", "labelFlush": false, "titleFontSize": 15, "titleFontWeight": "bold", "titlePadding": 14}},
                    "y": {"field": "rate", "type": "quantitative", "scale": {"domain": [0, 45], "nice": false}, "axis": {"values": [0, 5, 10, 15, 20, 25, 30, 35, 40, 45], "title": ["Cumulative incident-persistent", "infection rate (%)"], "grid": false, "domainWidth": 2, "domainColor": "#111", "tickWidth": 2, "tickColor": "#111", "tickSize": 9, "labelFontSize": 15, "labelPadding": 4, "labelColor": "#111", "labelFlush": false, "titleFontSize": 15, "titleFontWeight": "bold", "titleLineHeight": 20, "titlePadding": 14}},
                    "color": {"field": "label", "type": "nominal", "scale": {"domain": ["Incident-persistent 4vHPV infection; with prevalent 9vHPV infection at baseline", "Incident-persistent 9vHPV infection; with prevalent 9vHPV infection at baseline", "Incident-persistent 4vHPV infection; without prevalent 9vHPV infection at baseline", "Incident-persistent 9vHPV infection; without prevalent 9vHPV infection at baseline"], "range": ["#6e1b1f", "#1f8c6f", "#284f96", "#8f8f8f"]}, "legend": {"title": null, "orient": "none", "legendX": 10.5, "legendY": -12, "symbolType": "stroke", "symbolSize": 400, "symbolStrokeWidth": 2, "labelFontSize": 9.3, "labelColor": "#222", "labelLimit": 0, "labelOffset": 5, "labelBaseline": "alphabetic", "rowPadding": 1.3, "padding": 0, "labelExpr": "[slice(datum.label, 0, indexof(datum.label, ';') + 1), slice(datum.label, indexof(datum.label, ';') + 2)]"}}
                  }
                },
                {
                  "width": 478, "height": 162.4,
                  "title": {"text": "Number of men at risk", "anchor": "start", "align": "right", "dx": -29.5, "baseline": "bottom", "offset": -11, "fontSize": 12.4, "fontWeight": "bold", "color": "#111", "frame": "group"},
                  "data": {"name": "counts"},
                  "transform": [{"filter": "datum.panel === 'C' && datum.table === 'risk'"}, {"lookup": "key", "from": {"data": {"name": "series"}, "key": "key", "fields": ["label"]}}],
                  "mark": {"type": "text", "fontSize": 12.4, "color": "#222"},
                  "encoding": {
                    "x": {"field": "month", "type": "quantitative", "scale": {"domain": [0, 37.5], "nice": false}, "axis": null},
                    "y": {"field": "label", "type": "nominal", "sort": ["Incident-persistent 4vHPV infection; with prevalent 9vHPV infection at baseline", "Incident-persistent 9vHPV infection; with prevalent 9vHPV infection at baseline", "Incident-persistent 4vHPV infection; without prevalent 9vHPV infection at baseline", "Incident-persistent 9vHPV infection; without prevalent 9vHPV infection at baseline"], "scale": {"type": "band", "paddingInner": 0, "paddingOuter": 0}, "axis": {"title": null, "domain": false, "ticks": false, "labelPadding": 29.5, "labelOffset": -7.5, "labelFontSize": 12.4, "labelLineHeight": 15, "labelLimit": 0, "labelColor": "#222", "labelExpr": "[slice(datum.label, 0, indexof(datum.label, ';') + 1), slice(datum.label, indexof(datum.label, ';') + 2)]"}},
                    "text": {"field": "n", "type": "quantitative"}
                  }
                }
              ]
            },
            {
              "width": 478, "height": 160,
              "title": {"text": "Number of events inside period", "anchor": "start", "align": "right", "dx": -29.5, "baseline": "bottom", "offset": -11, "fontSize": 12.4, "fontWeight": "bold", "color": "#111", "frame": "group"},
              "data": {"name": "counts"},
              "transform": [{"filter": "datum.panel === 'C' && datum.table === 'events'"}, {"lookup": "key", "from": {"data": {"name": "series"}, "key": "key", "fields": ["label"]}}],
              "mark": {"type": "text", "fontSize": 12.4, "color": "#222"},
              "encoding": {
                "x": {"field": "month", "type": "quantitative", "scale": {"domain": [0, 37.5], "nice": false}, "axis": null},
                "y": {"field": "label", "type": "nominal", "sort": ["Incident-persistent 4vHPV infection; with prevalent 9vHPV infection at baseline", "Incident-persistent 9vHPV infection; with prevalent 9vHPV infection at baseline", "Incident-persistent 4vHPV infection; without prevalent 9vHPV infection at baseline", "Incident-persistent 9vHPV infection; without prevalent 9vHPV infection at baseline"], "scale": {"type": "band", "paddingInner": 0, "paddingOuter": 0}, "axis": {"title": null, "domain": false, "ticks": false, "labelPadding": 29.5, "labelOffset": -7.5, "labelFontSize": 12.4, "labelLineHeight": 15, "labelLimit": 0, "labelColor": "#222", "labelExpr": "[slice(datum.label, 0, indexof(datum.label, ';') + 1), slice(datum.label, indexof(datum.label, ';') + 2)]"}},
                "text": {"field": "n", "type": "quantitative"}
              }
            }
          ]
        }
      ]
    }
  ]
}
